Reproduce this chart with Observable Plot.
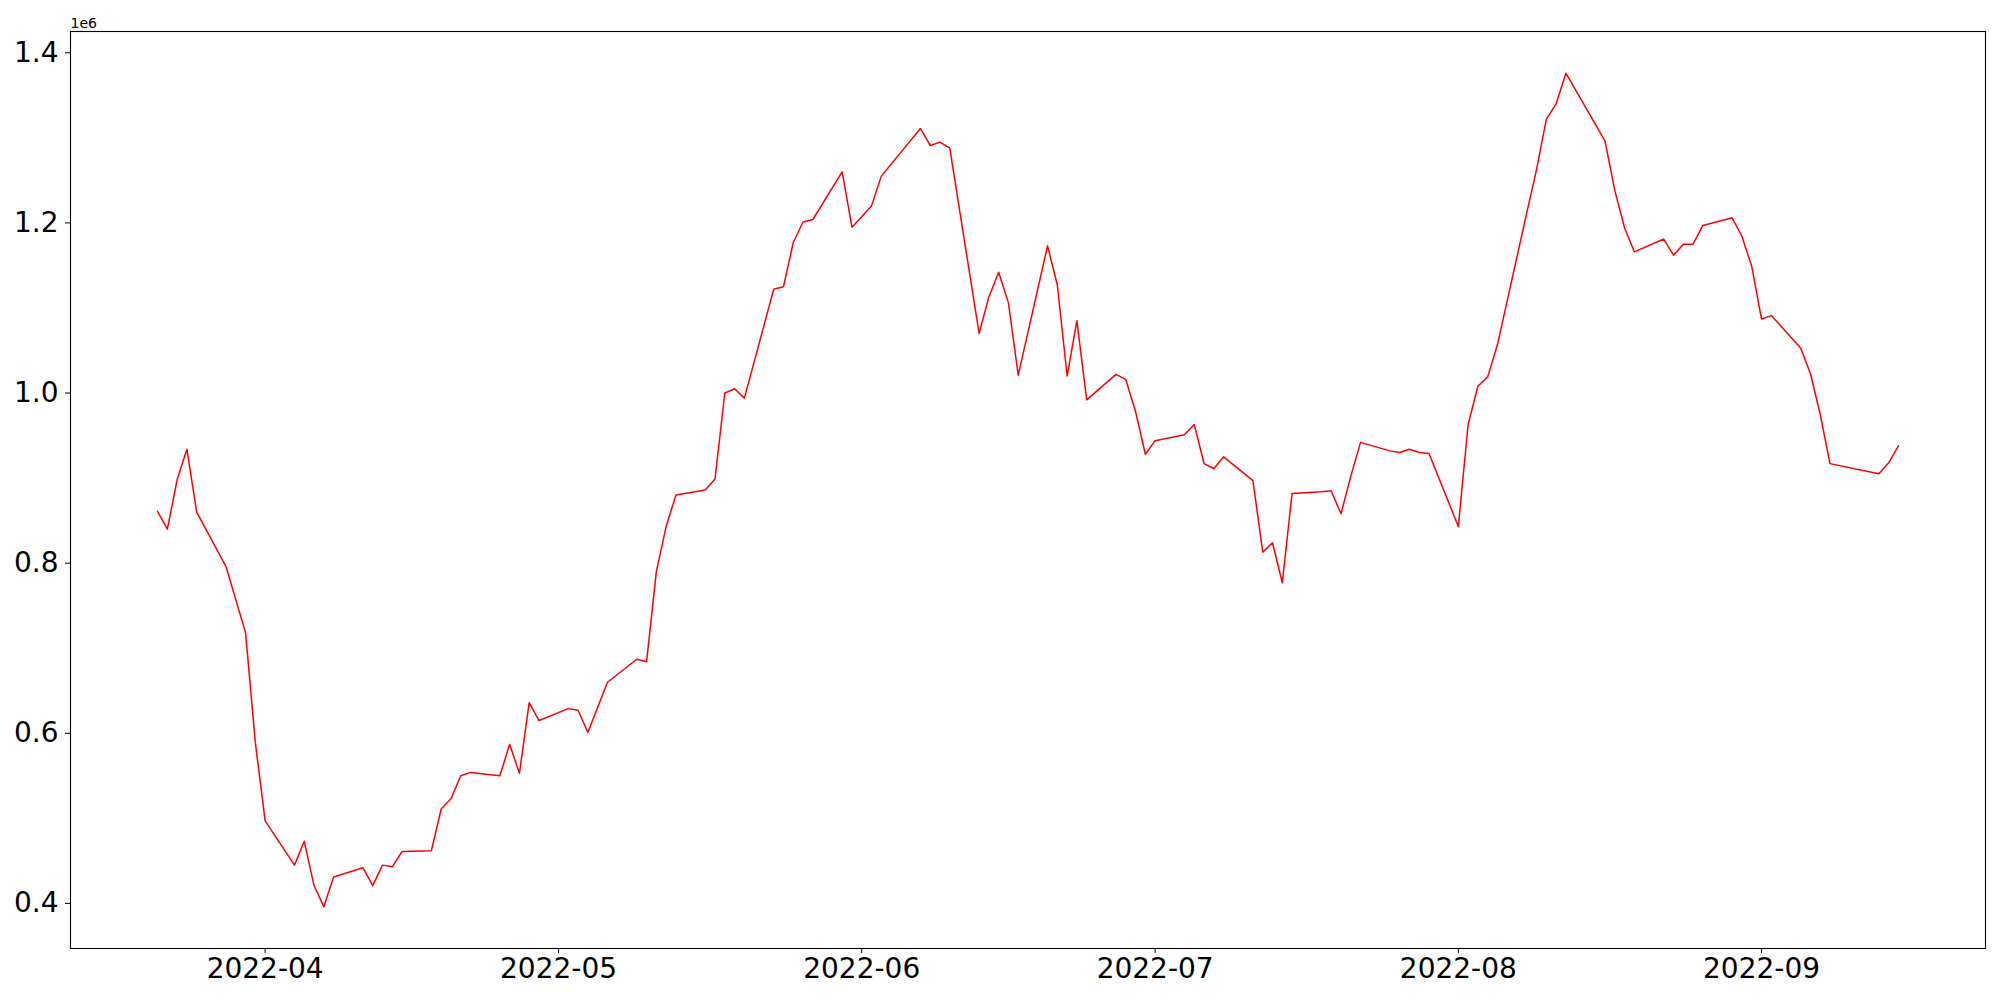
<!DOCTYPE html>
<html>
<head>
<meta charset="utf-8">
<script src="https://cdn.jsdelivr.net/npm/d3@7"></script>
<script src="https://cdn.jsdelivr.net/npm/@observablehq/plot@0.6"></script>
<style>
  html, body { margin: 0; padding: 0; background: white; }
</style>
</head>
<body>
<div id="chart"></div>
<script>
const dates = [
  "2022-03-21","2022-03-22","2022-03-23","2022-03-24","2022-03-25","2022-03-28","2022-03-30","2022-03-31","2022-04-01",
  "2022-04-04","2022-04-05","2022-04-06","2022-04-07","2022-04-08",
  "2022-04-11","2022-04-12","2022-04-13","2022-04-14","2022-04-15",
  "2022-04-18","2022-04-19","2022-04-20","2022-04-21","2022-04-22",
  "2022-04-25","2022-04-26","2022-04-27","2022-04-28","2022-04-29",
  "2022-05-02","2022-05-03","2022-05-04","2022-05-06",
  "2022-05-09","2022-05-10","2022-05-11","2022-05-12","2022-05-13",
  "2022-05-16","2022-05-17","2022-05-18","2022-05-19","2022-05-20",
  "2022-05-23","2022-05-24","2022-05-25","2022-05-26","2022-05-27",
  "2022-05-30","2022-05-31","2022-06-02","2022-06-03",
  "2022-06-07","2022-06-08","2022-06-09","2022-06-10",
  "2022-06-13","2022-06-14","2022-06-15","2022-06-16","2022-06-17",
  "2022-06-20","2022-06-21","2022-06-22","2022-06-23","2022-06-24",
  "2022-06-27","2022-06-28","2022-06-29","2022-06-30","2022-07-01",
  "2022-07-04","2022-07-05","2022-07-06","2022-07-07","2022-07-08",
  "2022-07-11","2022-07-12","2022-07-13","2022-07-14","2022-07-15",
  "2022-07-18","2022-07-19","2022-07-20","2022-07-21","2022-07-22",
  "2022-07-25","2022-07-26","2022-07-27","2022-07-28","2022-07-29",
  "2022-08-01","2022-08-02","2022-08-03","2022-08-04","2022-08-05",
  "2022-08-08","2022-08-09","2022-08-10","2022-08-11","2022-08-12",
  "2022-08-16","2022-08-17","2022-08-18","2022-08-19",
  "2022-08-22","2022-08-23","2022-08-24","2022-08-25","2022-08-26",
  "2022-08-29","2022-08-30","2022-08-31","2022-09-01","2022-09-02",
  "2022-09-05","2022-09-06","2022-09-07","2022-09-08",
  "2022-09-13","2022-09-14","2022-09-15"
];

const values = [
  861000, 840000, 898000, 934000, 860000, 796000, 718000, 589000, 497000,
  445000, 473000, 421000, 396000, 431000,
  442000, 421000, 445000, 443000, 461000,
  462000, 511000, 523000, 550000, 554000,
  550000, 587000, 553000, 636000, 615000,
  629000, 627000, 601000, 660000,
  687000, 684000, 790000, 843000, 880000,
  886000, 899000, 1000000, 1005000, 994000,
  1122000, 1125000, 1177000, 1201000, 1204000,
  1260000, 1195000, 1220000, 1255000,
  1311000, 1291000, 1295000, 1288000,
  1070000, 1113000, 1142000, 1106000, 1021000,
  1173000, 1127000, 1020000, 1085000, 992000,
  1022000, 1016000, 978000, 928000, 944000,
  951000, 963000, 917000, 911000, 925000,
  897000, 813000, 824000, 777000, 882000,
  884000, 885000, 858000, 902000, 942000,
  932000, 930000, 934000, 930000, 929000,
  843000, 963000, 1008000, 1019000, 1057000,
  1212000, 1263000, 1322000, 1340000, 1376000,
  1296000, 1238000, 1194000, 1166000,
  1181000, 1162000, 1175000, 1175000, 1197000,
  1206000, 1184000, 1149000, 1087000, 1091000,
  1053000, 1023000, 975000, 917000,
  905000, 918000, 938000
];

const xTickLabels = ["2022-04", "2022-05", "2022-06", "2022-07", "2022-08", "2022-09"];
const yTicks = [400000, 600000, 800000, 1000000, 1200000, 1400000];
const offsetLabel = "1e6";

const data = dates.map((d, i) => ({ date: new Date(d + "T00:00:00Z"), value: values[i] }));

const [x0, x1] = d3.extent(data, d => d.date);
const xPad = (x1 - x0) * 0.05;
const [y0, y1] = d3.extent(data, d => d.value);
const yPad = (y1 - y0) * 0.05;

const xTicks = xTickLabels.map(s => new Date(s + "-01T00:00:00Z"));

const chart = Plot.plot({
  width: 2000,
  height: 1000,
  marginLeft: 70,
  marginRight: 15,
  marginTop: 31,
  marginBottom: 52,
  style: { fontFamily: "DejaVu Sans", fontSize: "28px", color: "black", background: "white", overflow: "visible" },
  x: {
    type: "utc",
    domain: [new Date(+x0 - xPad), new Date(+x1 + xPad)],
    ticks: xTicks,
    tickFormat: d3.utcFormat("%Y-%m"),
    tickSize: 5,
    tickPadding: 5,
    label: null
  },
  y: {
    domain: [y0 - yPad, y1 + yPad],
    ticks: yTicks,
    tickFormat: d => (d / 1e6).toFixed(1),
    tickSize: 5,
    tickPadding: 7,
    label: null
  },
  marks: [
    Plot.line(data, { x: "date", y: "value", stroke: "#ff0000", strokeWidth: 1.5 }),
    Plot.frame({ stroke: "black", strokeWidth: 1.1 }),
    Plot.text([offsetLabel], {
      text: d => d,
      frameAnchor: "top-left",
      textAnchor: "start",
      lineAnchor: "bottom",
      dy: -4,
      fontSize: 14
    })
  ]
});

document.getElementById("chart").appendChild(chart);
</script>
</body>
</html>
